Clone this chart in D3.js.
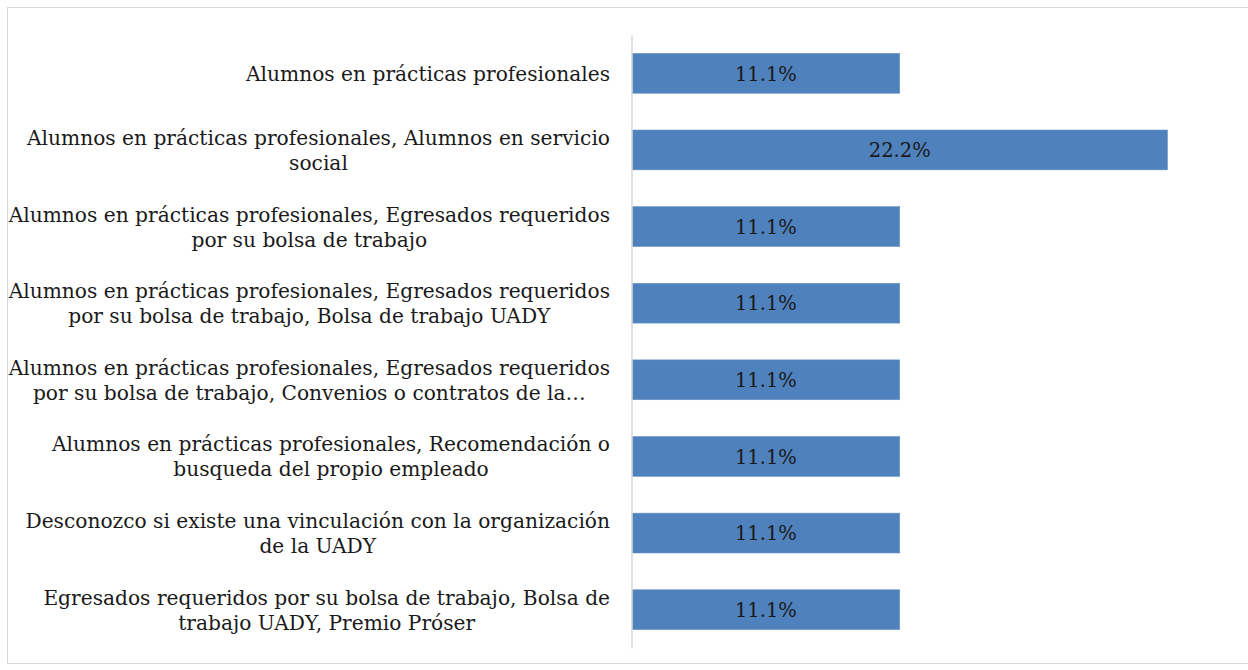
<!DOCTYPE html>
<html>
<head>
<meta charset="utf-8">
<script src="https://cdn.jsdelivr.net/npm/d3@7"></script>
<style>
  html, body { margin: 0; padding: 0; background: #fff; }
  svg { display: block; }
</style>
</head>
<body>
<div id="chart"></div>
<script>
const categories = [
  'Alumnos en prácticas profesionales',
  'Alumnos en prácticas profesionales, Alumnos en servicio\nsocial',
  'Alumnos en prácticas profesionales, Egresados requeridos\npor su bolsa de trabajo',
  'Alumnos en prácticas profesionales, Egresados requeridos\npor su bolsa de trabajo, Bolsa de trabajo UADY',
  'Alumnos en prácticas profesionales, Egresados requeridos\npor su bolsa de trabajo, Convenios o contratos de la…',
  'Alumnos en prácticas profesionales, Recomendación o\nbusqueda del propio empleado',
  'Desconozco si existe una vinculación con la organización\nde la UADY',
  'Egresados requeridos por su bolsa de trabajo, Bolsa de\ntrabajo UADY, Premio Próser'
]
const values = [0.111, 0.222, 0.111, 0.111, 0.111, 0.111, 0.111, 0.111]
const xDomain = [0, 0.25]

const width = 1248
const height = 670
const margin = { top: 35, right: 13, bottom: 22, left: 632 }
const fontFamily = '"DejaVu Serif", "Liberation Serif", serif'

const svg = d3.select('#chart')
  .append('svg')
  .attr('width', width)
  .attr('height', height)

// chart area frame
svg.append('rect')
  .attr('x', 7.5)
  .attr('y', 7.5)
  .attr('width', width)
  .attr('height', 656)
  .attr('fill', 'none')
  .attr('stroke', '#d9d9d9')
  .attr('stroke-width', 1)

const xScaler = d3.scaleLinear()
  .domain(xDomain)
  .range([margin.left, width - margin.right])

const yScaler = d3.scaleBand()
  .domain(categories)
  .range([margin.top, height - margin.bottom])
  .paddingInner(0.48)
  .paddingOuter(0.24)

// bars
const bars = svg.append('g').classed('bars', true)
  .selectAll('g')
  .data(categories.map((c, i) => ({ key: c, value: values[i] })))
  .enter()
  .append('g')

bars.append('rect')
  .attr('x', xScaler(0))
  .attr('y', d => yScaler(d.key))
  .attr('width', d => xScaler(d.value) - xScaler(0))
  .attr('height', yScaler.bandwidth())
  .attr('fill', '#4f81bd')
  .attr('stroke', '#6a94c8')
  .attr('stroke-width', 0.6)

bars.append('text')
  .attr('x', d => (xScaler(0) + xScaler(d.value)) / 2)
  .attr('y', d => yScaler(d.key) + yScaler.bandwidth() / 2)
  .attr('dy', '0.37em')
  .attr('text-anchor', 'middle')
  .style('font-family', fontFamily)
  .style('font-size', '19.5px')
  .style('fill', '#1a1a1a')
  .text(d => (d.value * 100).toFixed(1) + '%')

// y axis (line only, labels drawn separately so they can wrap)
const yAxis = d3.axisLeft(yScaler).tickSize(0).tickFormat('')
const yAxisG = svg.append('g')
  .classed('y-axis', true)
  .attr('transform', `translate(${margin.left - 0.5},0)`)
  .call(yAxis)
yAxisG.select('.domain').attr('stroke', '#d9d9d9').attr('stroke-width', 1.5)

const lineHeight = 25
const labelRight = 610
const labels = svg.append('g').classed('y-labels', true)
  .style('font-family', fontFamily)
  .style('font-size', '20.2px')
  .style('fill', '#1a1a1a')

categories.forEach(cat => {
  const lines = cat.split('\n')
  const cy = yScaler(cat) + yScaler.bandwidth() / 2
  const t = labels.append('text')
  lines.forEach((ln, i) => {
    t.append('tspan')
      .attr('y', cy - (lines.length - 1) * lineHeight / 2 + i * lineHeight)
      .attr('dy', '0.37em')
      .text(ln)
  })
  // block right-aligned, lines centred within block
  const tspans = t.selectAll('tspan').nodes()
  const blockW = d3.max(tspans, n => n.getComputedTextLength())
  const centre = labelRight - blockW / 2
  tspans.forEach(n => d3.select(n).attr('x', centre).attr('text-anchor', 'middle'))
})
</script>
</body>
</html>
